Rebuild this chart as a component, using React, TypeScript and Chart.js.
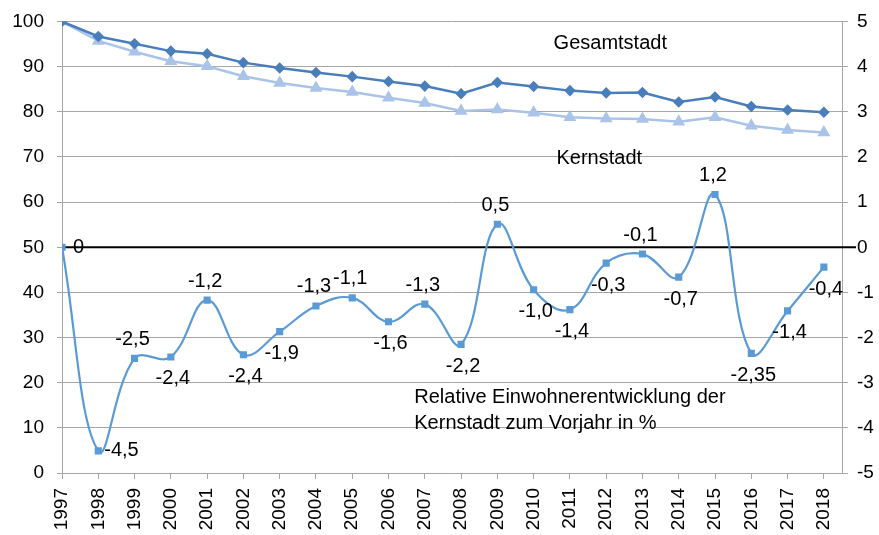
import React, { useEffect, useRef } from "react";
import { Chart, registerables } from "chart.js";

Chart.register(...registerables);

const years = [1997, 1998, 1999, 2000, 2001, 2002, 2003, 2004, 2005, 2006, 2007, 2008, 2009, 2010, 2011, 2012, 2013, 2014, 2015, 2016, 2017, 2018];
const gesamtstadt = [100, 96.7, 95.1, 93.45, 92.85, 90.9, 89.7, 88.7, 87.8, 86.7, 85.7, 84.0, 86.5, 85.6, 84.7, 84.2, 84.3, 82.2, 83.3, 81.2, 80.4, 79.9];
const kernstadt = [100, 95.7, 93.3, 91.2, 90.1, 87.9, 86.4, 85.3, 84.4, 83.1, 81.95, 80.2, 80.5, 79.8, 78.8, 78.5, 78.4, 77.8, 78.8, 76.9, 76.0, 75.4];
const relativeChange = [0, -4.51, -2.46, -2.43, -1.17, -2.38, -1.87, -1.30, -1.12, -1.65, -1.26, -2.15, 0.51, -0.94, -1.38, -0.35, -0.15, -0.66, 1.17, -2.35, -1.41, -0.44];
const relativeLabels = ["0", "-4,5", "-2,5", "-2,4", "-1,2", "-2,4", "-1,9", "-1,3", "-1,1", "-1,6", "-1,3", "-2,2", "0,5", "-1,0", "-1,4", "-0,3", "-0,1", "-0,7", "1,2", "-2,35", "-1,4", "-0,4"];
// label placement: r = right, a = above, b = below
const labelPlacement = ["r", "r", "a", "b", "a", "b", "b", "a", "a", "b", "a", "b", "a", "b", "b", "b", "a", "b", "a", "b", "b", "b"];

const textNotes = [
  { text: "Gesamtstadt", x: 2010.55, y: 95.2 },
  { text: "Kernstadt", x: 2010.63, y: 69.6 },
  { text: "Relative Einwohnerentwicklung der", x: 2006.71, y: 16.8 },
  { text: "Kernstadt zum Vorjahr in %", x: 2006.71, y: 11.05 },
];

const FONT = "'Liberation Sans', Arial, sans-serif";
const GRID = "#a6a6a6";
const C_GESAMT = "#4a7ebb";
const C_KERN = "#a9c4e8";
const C_REL = "#5b9bd5";

const overlayPlugin = {
  id: "overlay",
  beforeDatasetsDraw(chart: any) {
    const { ctx, chartArea, scales } = chart;
    const y0 = scales.y1.getPixelForValue(0);
    ctx.save();
    ctx.strokeStyle = "#000";
    ctx.lineWidth = 2;
    ctx.beginPath();
    ctx.moveTo(chartArea.left, y0);
    ctx.lineTo(chartArea.right + 14, y0);
    ctx.stroke();
    ctx.restore();
  },
  afterDatasetsDraw(chart: any) {
    const { ctx, scales } = chart;
    ctx.save();
    ctx.fillStyle = "#000";
    ctx.font = `20px ${FONT}`;
    ctx.textBaseline = "middle";
    ctx.textAlign = "left";
    textNotes.forEach((n) => {
      ctx.fillText(n.text, scales.x.getPixelForValue(n.x), scales.y.getPixelForValue(n.y));
    });
    const meta = chart.getDatasetMeta(2);
    meta.data.forEach((pt: any, i: number) => {
      const p = labelPlacement[i];
      const t = relativeLabels[i];
      if (p === "r") {
        ctx.textAlign = "left";
        ctx.fillText(t, pt.x + (i === 0 ? 11 : 6), pt.y);
      } else if (p === "a") {
        ctx.textAlign = "center";
        ctx.fillText(t, pt.x - 2, pt.y - 19);
      } else {
        ctx.textAlign = "center";
        ctx.fillText(t, pt.x + 2, pt.y + 22);
      }
    });
    ctx.restore();
  },
};

export default function App() {
  const ref = useRef<HTMLCanvasElement>(null);
  useEffect(() => {
    if (!ref.current) return;
    const chart = new Chart(ref.current, {
      type: "line",
      data: {
        datasets: [
          {
            label: "Gesamtstadt",
            data: years.map((x, i) => ({ x, y: gesamtstadt[i] })),
            borderColor: C_GESAMT,
            backgroundColor: C_GESAMT,
            borderWidth: 2.5,
            pointStyle: "rectRot",
            pointRadius: 4,
            yAxisID: "y",
            tension: 0,
          },
          {
            label: "Kernstadt",
            data: years.map((x, i) => ({ x, y: kernstadt[i] })),
            borderColor: C_KERN,
            backgroundColor: C_KERN,
            borderWidth: 2.5,
            pointStyle: "triangle",
            pointRadius: 5,
            yAxisID: "y",
            tension: 0,
          },
          {
            label: "Relative Einwohnerentwicklung",
            data: years.map((x, i) => ({ x, y: relativeChange[i] })),
            borderColor: C_REL,
            backgroundColor: C_REL,
            borderWidth: 2.2,
            pointStyle: "rect",
            pointRadius: 3.5,
            yAxisID: "y1",
            tension: 0.4,
          },
        ],
      },
      options: {
        responsive: false,
        animation: false,
        layout: { padding: { top: 8, left: 0, right: 0, bottom: 0 } },
        plugins: { legend: { display: false }, tooltip: { enabled: false } },
        scales: {
          x: {
            type: "linear",
            min: 1997,
            max: 2018.5,
            afterFit: (s: any) => { s.height = 62; },
            afterBuildTicks: (s: any) => { s.ticks = s.ticks.filter((t: any) => Number.isInteger(t.value)); },
            ticks: {
              stepSize: 1,
              includeBounds: false,
              autoSkip: false,
              maxRotation: 90,
              minRotation: 90,
              padding: 9,
              color: "#000",
              font: { family: FONT, size: 19 },
              callback: (v: any) => String(v),
            },
            grid: { drawOnChartArea: false, drawTicks: true, tickLength: 6, color: GRID },
            border: { display: true, color: GRID },
          },
          y: {
            position: "left",
            min: 0,
            max: 100,
            afterFit: (s: any) => { s.width = 62; },
            ticks: { stepSize: 10, padding: 13, color: "#000", font: { family: FONT, size: 19, lineHeight: 0.9 } },
            grid: { color: GRID, tickLength: 5, lineWidth: 1 },
            border: { display: true, color: GRID },
          },
          y1: {
            position: "right",
            min: -5,
            max: 5,
            afterFit: (s: any) => { s.width = 37; },
            ticks: { stepSize: 1, padding: 9, color: "#000", font: { family: FONT, size: 19, lineHeight: 0.9 } },
            grid: { drawOnChartArea: false, tickLength: 6, color: GRID },
            border: { display: true, color: GRID },
          },
        },
      },
      plugins: [overlayPlugin],
    } as any);
    return () => chart.destroy();
  }, []);
  return (
    <div style={{ position: "fixed", left: 0, top: 0, width: 879, height: 535, background: "#fff" }}>
      <canvas ref={ref} width={879} height={535} />
    </div>
  );
}
